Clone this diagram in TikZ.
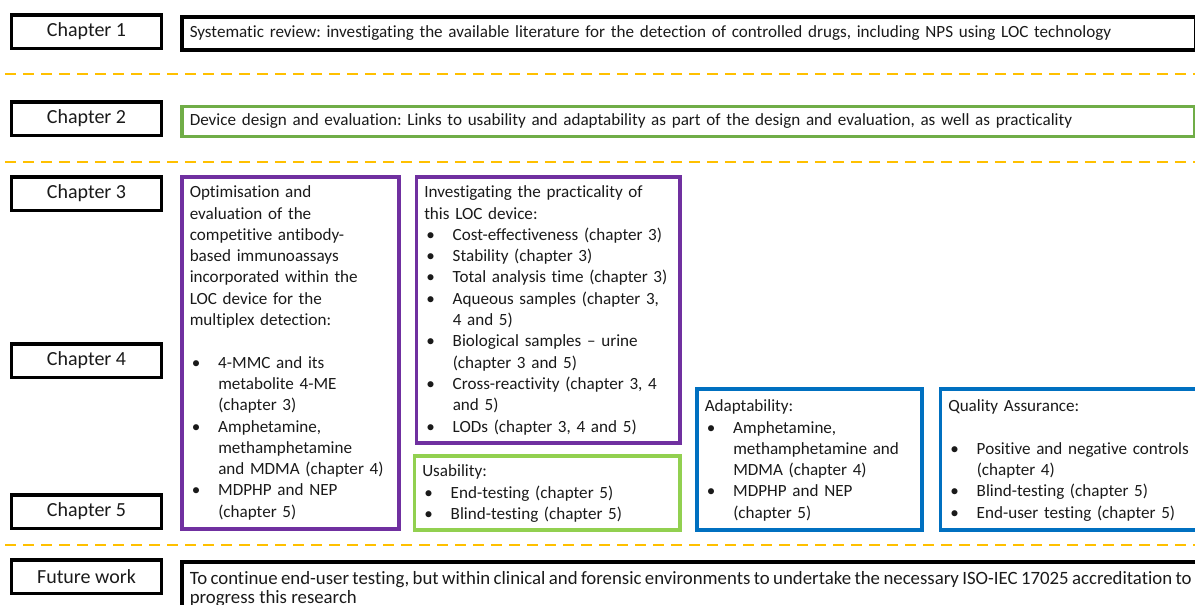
\documentclass[tikz,border=0pt]{standalone}
\usepackage{fontspec}
\setmainfont{Carlito}[Ligatures=NoCommon]
\frenchspacing
\hyphenpenalty=10000

\definecolor{chpurple}{HTML}{7030A0}
\definecolor{chgreen}{HTML}{70AD47}
\definecolor{chlime}{HTML}{92D050}
\definecolor{chblue}{HTML}{0070C0}
\definecolor{chgold}{HTML}{FFC000}
\definecolor{chtext}{HTML}{1A1A1A}

% hanging bullet item, the text stays clear of the dot
\newcommand{\bul}{\par\hangindent=28.5pt\hangafter=1\noindent\makebox[28.5pt][l]{\hspace{2pt}\textbullet}}

\tikzset{
  chapter/.style={draw, line width=3.5pt, minimum width=150pt, minimum height=33.5pt, inner sep=0pt,
    font=\fontsize{20}{24}\selectfont},
  panel/.style={draw=#1, line width=3.5pt, anchor=north west, inner xsep=8pt, inner ysep=0pt,
    align=left, font=\fontsize{17.1}{21.3}\selectfont},
  divider/.style={chgold, line width=2pt, dash pattern=on 11pt off 7pt},
}

\begin{document}
\begin{tikzpicture}[x=1pt,y=-1pt,text=chtext]
\useasboundingbox (0,0) rectangle (1195,605);
\clip (0,0) rectangle (1195,605);

% chapter labels
\node[chapter] (ch1) at (86.5,31.5) {Chapter 1};
\node[chapter] (ch2) at (86.5,118.5) {Chapter 2};
\node[chapter] (ch3) at (86.5,193.5) {Chapter 3};
\node[chapter] (ch4) at (86.5,360.5) {Chapter 4};
\node[chapter] (ch5) at (86.5,511.5) {Chapter 5};
\node[chapter] (future) at (86.5,576.5) {Future work};

% dashed separators between the rows
\draw[divider] (5,74) -- (1195,74);
\draw[divider] (5,162) -- (1195,162);
\draw[divider] (5,545) -- (1195,545);

% chapters 1 and 2
\node[panel=black, text width=998pt, minimum height=33pt] (review) at (180,15)
  {Systematic review: investigating the available literature for the detection of controlled drugs, including NPS using LOC technology};
\node[panel=chgreen, text width=997pt, minimum height=30pt] (design) at (180,104.5)
  {Device design and evaluation: Links to usability and adaptability as part of the design and evaluation, as well as practicality};

% chapters 3 to 5
\node[panel=chpurple, text width=201pt, text height=21pt, text depth=331pt] (optim) at (180,175)
  {Optimisation and\newline evaluation of the\newline competitive antibody-\newline based immunoassays\newline
   incorporated within the\newline LOC device for the\newline multiplex detection:\par
   \vspace{21.3pt}
   \bul 4-MMC and its\newline metabolite 4-ME\newline (chapter 3)
   \bul Amphetamine,\newline methamphetamine\newline and MDMA (chapter 4)
   \bul MDPHP and NEP\newline (chapter 5)\par};

\node[panel=chpurple, text width=247.5pt, text height=21pt, text depth=245pt] (practical) at (414.5,175)
  {Investigating the practicality of\newline this LOC device:
   \bul Cost-effectiveness (chapter 3)
   \bul Stability (chapter 3)
   \bul Total analysis time (chapter 3)
   \bul Aqueous samples (chapter 3,\newline 4 and 5)
   \bul Biological samples -- urine\newline (chapter 3 and 5)
   \bul Cross-reactivity (chapter 3, 4\newline and 5)
   \bul LODs (chapter 3, 4 and 5)\par};

\node[panel=chlime, text width=249.5pt, text height=21pt, text depth=53pt] (usab) at (412.5,454)
  {Usability:
   \bul End-testing (chapter 5)
   \bul Blind-testing (chapter 5)\par};

\node[panel=chblue, text width=209pt, text height=23pt, text depth=118pt] (adapt) at (695,387)
  {Adaptability:
   \bul Amphetamine,\newline methamphetamine and\newline MDMA (chapter 4)
   \bul MDPHP and NEP\newline (chapter 5)\par};

\node[panel=chblue, text width=246pt, text height=23pt, text depth=118pt] (quality) at (938.5,387)
  {Quality Assurance:\par
   \vspace{21.3pt}
   \bul Positive and negative controls\newline (chapter 4)
   \bul Blind-testing (chapter 5)
   \bul End-user testing (chapter 5)\par};

% future work
\node[panel=black, align=justify, text width=1002pt, text height=23pt, text depth=57pt,
  font=\fontsize{18.8}{19}\selectfont] (outlook) at (180,560)
  {To continue end-user testing, but within clinical and forensic environments to undertake the necessary ISO-IEC 17025 accreditation to\linebreak progress this research\par};
\end{tikzpicture}
\end{document}
